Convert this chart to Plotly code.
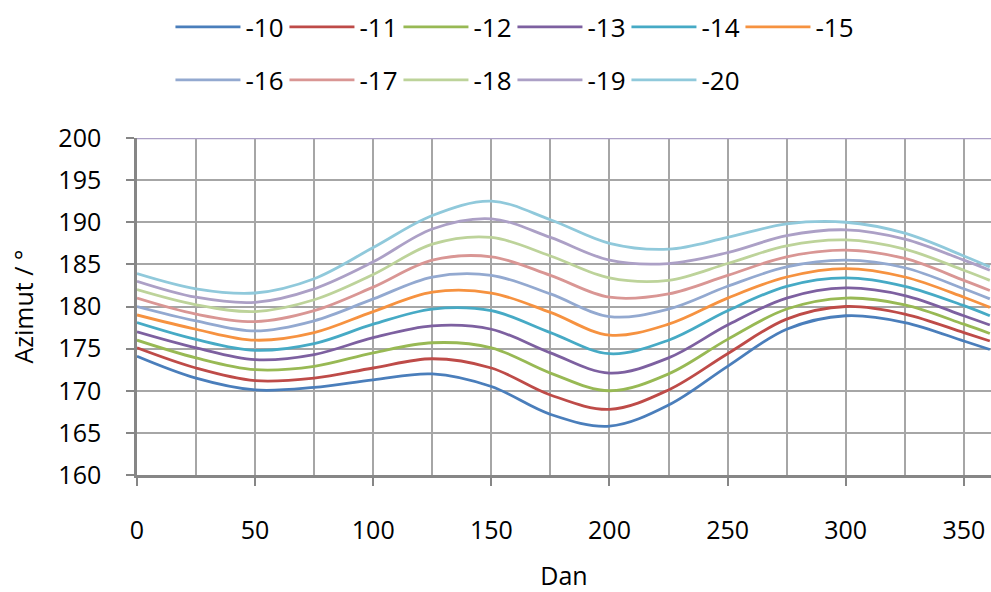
import plotly.graph_objects as go

days = [0, 25, 50, 75, 100, 125, 150, 175, 200, 225, 250, 275, 300, 325, 350, 361]

series_names = ["-10", "-11", "-12", "-13", "-14", "-15", "-16", "-17", "-18", "-19", "-20"]

s10 = [174.1, 171.5, 170.1, 170.4, 171.3, 172.0, 170.5, 167.2, 165.8, 168.3, 172.9, 177.3, 178.9, 178.1, 175.9, 174.9]
s11 = [175.1, 172.7, 171.2, 171.5, 172.7, 173.8, 172.7, 169.5, 167.8, 170.1, 174.4, 178.5, 180.0, 179.1, 176.9, 175.9]
s12 = [176.0, 173.9, 172.5, 172.9, 174.5, 175.7, 175.1, 172.1, 170.0, 172.0, 176.1, 179.7, 181.0, 180.2, 177.9, 176.8]
s13 = [177.0, 175.1, 173.7, 174.3, 176.3, 177.7, 177.3, 174.5, 172.1, 173.9, 177.8, 181.0, 182.2, 181.3, 178.9, 177.8]
s14 = [178.1, 176.1, 174.8, 175.6, 177.9, 179.7, 179.5, 176.9, 174.4, 176.0, 179.5, 182.4, 183.4, 182.4, 180.1, 178.9]
s15 = [179.0, 177.3, 176.0, 176.9, 179.4, 181.7, 181.6, 179.3, 176.6, 177.9, 181.0, 183.5, 184.5, 183.5, 181.1, 179.9]
s16 = [180.0, 178.3, 177.1, 178.3, 180.9, 183.5, 183.7, 181.5, 178.8, 179.7, 182.4, 184.7, 185.5, 184.6, 182.1, 180.9]
s17 = [181.0, 179.1, 178.2, 179.5, 182.3, 185.5, 185.9, 183.7, 181.1, 181.5, 183.7, 185.9, 186.7, 185.7, 183.1, 181.9]
s18 = [182.0, 180.2, 179.4, 180.8, 183.8, 187.4, 188.2, 186.0, 183.4, 183.1, 185.1, 187.2, 187.9, 186.8, 184.3, 183.1]
s19 = [183.0, 181.1, 180.5, 182.1, 185.3, 189.2, 190.4, 188.2, 185.5, 185.1, 186.4, 188.4, 189.1, 188.0, 185.5, 184.3]
s20 = [183.9, 182.1, 181.6, 183.3, 187.0, 190.8, 192.5, 190.3, 187.5, 186.8, 188.2, 189.8, 190.0, 188.7, 186.0, 184.7]

all_series = [s10, s11, s12, s13, s14, s15, s16, s17, s18, s19, s20]

colors = ["#4A7EBB", "#BE4B48", "#98B954", "#7D60A0", "#46AAC5", "#F69240",
          "#93A9D0", "#D99694", "#BDD39A", "#ACA0C6", "#90C9DB"]

FONT = "Open Sans"

fig = go.Figure()
for i, (name, vals, col) in enumerate(zip(series_names, all_series, colors)):
    fig.add_trace(go.Scatter(
        x=days, y=vals, name=name, mode="lines",
        line=dict(color=col, width=2.8, shape="spline", smoothing=1.0),
        legend="legend" if i < 6 else "legend2",
    ))

legend_common = dict(
    orientation="h", xanchor="left", yanchor="middle",
    xref="container", yref="container",
    font=dict(family=FONT, size=26, color="#000000"),
    bgcolor="rgba(0,0,0,0)", itemwidth=65,
    entrywidth=34, entrywidthmode="pixels", tracegroupgap=0,
)

fig.update_layout(
    width=991, height=592,
    margin=dict(l=137, r=0, t=138, b=117, autoexpand=False),
    paper_bgcolor="white", plot_bgcolor="white",
    font=dict(family=FONT, size=25, color="#000000"),
    legend=dict(x=0.172, y=1 - 27 / 592, **legend_common),
    legend2=dict(x=0.172, y=1 - 80 / 592, **legend_common),
    xaxis=dict(
        range=[0, 361.5], dtick=50, tick0=0,
        showgrid=True, gridcolor="#A6A6A6", gridwidth=1.5,
        minor=dict(dtick=25, showgrid=True, gridcolor="#A6A6A6", gridwidth=1.5),
        ticks="outside", ticklen=8, tickwidth=2, tickcolor="#868686",
        showline=True, linecolor="#868686", linewidth=2.5,
        ticklabelstandoff=23, zeroline=False, automargin=False,
        title=dict(text="Dan", font=dict(family=FONT, size=25), standoff=27),
        tickfont=dict(family=FONT, size=25),
    ),
    yaxis=dict(
        range=[160, 200], dtick=5, tick0=160,
        showgrid=True, gridcolor="#A6A6A6", gridwidth=1.5,
        ticks="outside", ticklen=8, tickwidth=2, tickcolor="#868686",
        showline=True, linecolor="#868686", linewidth=2.5,
        ticklabelstandoff=20, zeroline=False, automargin=False,
        title=dict(text="Azimut / °", font=dict(family=FONT, size=25), standoff=18),
        tickfont=dict(family=FONT, size=25),
    ),
    shapes=[dict(type="line", xref="paper", yref="y", x0=0, x1=1, y0=200, y1=200,
                 line=dict(color="#ACA0C6", width=2.5), layer="above")],
    showlegend=True,
)

fig.write_html("out.html")
